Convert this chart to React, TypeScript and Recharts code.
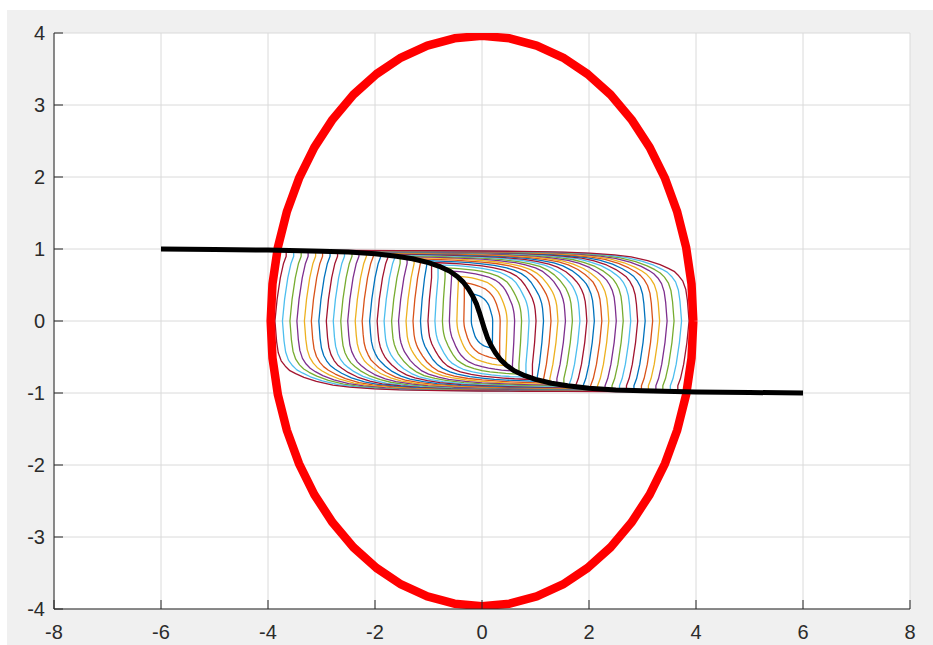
import React from 'react';
import { LineChart, Line, XAxis, YAxis, CartesianGrid } from 'recharts';

// ---------- tick labels ----------
const X_TICKS = [-8, -6, -4, -2, 0, 2, 4, 6, 8];
const Y_TICKS = [-4, -3, -2, -1, 0, 1, 2, 3, 4];

// ---------- black S-curve ----------
const BLACK_X = [-6, -5, -4, -3, -2.5, -2, -1.6, -1.3, -1, -0.8, -0.6, -0.45, -0.35, -0.25, -0.17, -0.1, -0.05, 0,
  0.05, 0.1, 0.17, 0.25, 0.35, 0.45, 0.6, 0.8, 1, 1.3, 1.6, 2, 2.5, 3, 4, 5, 6];
const BLACK_Y = [1, 0.993, 0.985, 0.97, 0.958, 0.935, 0.9, 0.865, 0.81, 0.76, 0.69, 0.61, 0.54, 0.44, 0.34, 0.23, 0.12, 0,
  -0.12, -0.23, -0.34, -0.44, -0.54, -0.61, -0.69, -0.76, -0.81, -0.865, -0.9, -0.935, -0.958, -0.97, -0.985, -0.993, -1];

// ---------- red ellipse ----------
const ELLIPSE_X = [3.95, 3.916, 3.815, 3.649, 3.421, 3.134, 2.793, 2.405, 1.975, 1.512, 1.022, 0.515, 0,
  -0.515, -1.022, -1.512, -1.975, -2.405, -2.793, -3.134, -3.421, -3.649, -3.815, -3.916, -3.95,
  -3.916, -3.815, -3.649, -3.421, -3.134, -2.793, -2.405, -1.975, -1.512, -1.022, -0.515, 0,
  0.515, 1.022, 1.512, 1.975, 2.405, 2.793, 3.134, 3.421, 3.649, 3.815, 3.916, 3.95];
const ELLIPSE_Y = [0, 0.517, 1.025, 1.515, 1.98, 2.411, 2.8, 3.142, 3.429, 3.659, 3.825, 3.926, 3.96,
  3.926, 3.825, 3.659, 3.429, 3.142, 2.8, 2.411, 1.98, 1.515, 1.025, 0.517, 0,
  -0.517, -1.025, -1.515, -1.98, -2.411, -2.8, -3.142, -3.429, -3.659, -3.825, -3.926, -3.96,
  -3.926, -3.825, -3.659, -3.429, -3.142, -2.8, -2.411, -1.98, -1.515, -1.025, -0.517, 0];

// ---------- coloured hysteresis loops ----------
// half-width of each loop (x where its side crosses y = 0)
const LOOP_HALF_WIDTH = [0.2, 0.34, 0.47, 0.61, 0.74, 0.88, 1.01, 1.15, 1.29, 1.42, 1.56, 1.69, 1.83, 1.96,
  2.1, 2.24, 2.37, 2.51, 2.64, 2.78, 2.91, 3.05, 3.19, 3.32, 3.46, 3.59, 3.73, 3.87];
// rounded corner: position along the branch -> fraction of the S-curve reached
const LOOP_U = [0, 0.004, 0.008, 0.015, 0.025, 0.036, 0.05, 0.07, 0.1, 0.14, 0.18, 0.24, 0.3, 0.4, 0.5, 0.6, 0.7, 0.8, 0.9, 1];
const LOOP_H = [0, 0.035, 0.065, 0.095, 0.125, 0.155, 0.185, 0.23, 0.3, 0.39, 0.47, 0.56, 0.64, 0.74, 0.81, 0.87, 0.92, 0.96, 0.985, 1];
// "(" bow of the straight side: height on the side -> inward shift
const SIDE_Y = [0, 0.3, 0.6, 0.8, 0.9, 1.0];
const SIDE_DX = [0, 0.04, 0.1, 0.16, 0.21, 0.26];

const PALETTE = ['#0072BD', '#D95319', '#EDB120', '#7E2F8E', '#77AC30', '#4DBEEE', '#A2142F'];

function lookup(xs: number[], ys: number[], x: number): number {
  if (x <= xs[0]) return ys[0];
  if (x >= xs[xs.length - 1]) return ys[ys.length - 1];
  for (let i = 1; i < xs.length; i++) {
    if (x <= xs[i]) {
      const t = (x - xs[i - 1]) / (xs[i] - xs[i - 1]);
      return ys[i - 1] + t * (ys[i] - ys[i - 1]);
    }
  }
  return ys[ys.length - 1];
}
const S = (x: number) => lookup(BLACK_X, BLACK_Y, x);
const H = (u: number) => lookup(LOOP_U, LOOP_H, u);

// one half of a loop (top-left corner -> side -> lower branch -> bottom-right corner)
function halfLoop(c: number) {
  const pts: { x: number; y: number }[] = [];
  const side: { x: number; y: number }[] = [];
  for (let j = SIDE_Y.length - 1; j >= 1; j--) {
    const x = -c + SIDE_DX[j] * Math.min(1, c / 1.5);
    if (SIDE_Y[j] < S(x)) side.push({ x, y: SIDE_Y[j] });
  }
  const topX = side.length ? side[0].x : -c;
  pts.push({ x: topX, y: S(topX) });
  pts.push(...side);
  for (const u of LOOP_U) pts.push({ x: -c + 2 * c * u, y: S(c * H(u)) });
  return pts;
}
function loopData(c: number) {
  const h = halfLoop(c);
  const mirrored = h.map((p) => ({ x: -p.x, y: -p.y }));
  return [...h, ...mirrored, h[0]];
}

const blackData = BLACK_X.map((x, i) => ({ x, y: BLACK_Y[i] }));
const ellipseData = ELLIPSE_X.map((x, i) => ({ x, y: ELLIPSE_Y[i] }));
const loops = LOOP_HALF_WIDTH.map((c) => loopData(c));

const AX = '#262626';
const FONT = 'Arial, "Liberation Sans", Helvetica, sans-serif';
const TL = 9;
const FS = 20;
const TEXT_STYLE: React.CSSProperties = { fontSize: FS + 'px', fontFamily: FONT, fill: '#2b2b2b' };

const BottomTick = (p: any) => (
  <g>
    <line x1={p.x} x2={p.x} y1={p.y} y2={p.y - TL} stroke={AX} strokeWidth={1} />
    <text x={p.x} y={p.y + 30} textAnchor="middle" fontSize={FS} style={TEXT_STYLE}>
      {String(p.payload.value)}
    </text>
  </g>
);
const TopTick = (p: any) => (
  <line x1={p.x} x2={p.x} y1={p.y} y2={p.y + TL} stroke={AX} strokeWidth={1} />
);
const LeftTick = (p: any) => (
  <g>
    <line x1={p.x} x2={p.x + TL} y1={p.y} y2={p.y} stroke={AX} strokeWidth={1} />
    <text x={p.x - 9} y={p.y + 7} textAnchor="end" fontSize={FS} style={TEXT_STYLE}>
      {String(p.payload.value)}
    </text>
  </g>
);
const RightTick = (p: any) => (
  <line x1={p.x} x2={p.x - TL} y1={p.y} y2={p.y} stroke={AX} strokeWidth={1} />
);

export default function App() {
  return (
    <div style={{ position: 'absolute', left: 0, top: 0, width: 933, height: 645, background: '#ffffff', overflow: 'hidden' }}>
      <div style={{ position: 'absolute', left: 7, top: 10, width: 926, height: 635, background: '#f0f0f0' }} />
      <div style={{ position: 'absolute', left: 54, top: 33, width: 856, height: 576, background: '#ffffff' }} />
      <div style={{ position: 'absolute', left: 0, top: 0 }}>
        <LineChart width={933} height={645} margin={{ top: 33, right: 23, bottom: 0, left: 8 }}>
          <CartesianGrid xAxisId="b" yAxisId="l" stroke="#dadada" strokeWidth={1} />
          <XAxis xAxisId="b" dataKey="x" type="number" domain={[-8, 8]} ticks={X_TICKS} allowDataOverflow
            orientation="bottom" height={36} tickSize={0} tickMargin={0} tickLine={false}
            axisLine={{ stroke: AX }} tick={BottomTick} interval={0} />
          <XAxis xAxisId="t" type="number" domain={[-8, 8]} ticks={X_TICKS} allowDataOverflow
            orientation="top" height={0} tickSize={0} tickMargin={0} tickLine={false}
            axisLine={{ stroke: AX }} tick={TopTick} interval={0} />
          <YAxis yAxisId="l" type="number" domain={[-4, 4]} ticks={Y_TICKS} allowDataOverflow
            orientation="left" width={46} tickSize={0} tickMargin={0} tickLine={false}
            axisLine={{ stroke: AX }} tick={LeftTick} interval={0} />
          <YAxis yAxisId="r" type="number" domain={[-4, 4]} ticks={Y_TICKS} allowDataOverflow
            orientation="right" width={0} tickSize={0} tickMargin={0} tickLine={false}
            axisLine={{ stroke: AX }} tick={RightTick} interval={0} />
          {loops.map((d, i) => (
            <Line key={'loop' + i} xAxisId="b" yAxisId="l" data={d} dataKey="y" type="linear"
              stroke={PALETTE[i % PALETTE.length]} strokeWidth={1.3} strokeLinejoin="round" dot={false} activeDot={false}
              isAnimationActive={false} legendType="none" />
          ))}
          <Line xAxisId="b" yAxisId="l" data={ellipseData} dataKey="y" type="linear" stroke="#ff0000"
            strokeWidth={8.5} strokeLinejoin="round" dot={false} activeDot={false} isAnimationActive={false} legendType="none" />
          <Line xAxisId="b" yAxisId="l" data={blackData} dataKey="y" type="linear" stroke="#000000"
            strokeWidth={5} strokeLinejoin="round" dot={false} activeDot={false} isAnimationActive={false} legendType="none" />
        </LineChart>
      </div>
    </div>
  );
}
